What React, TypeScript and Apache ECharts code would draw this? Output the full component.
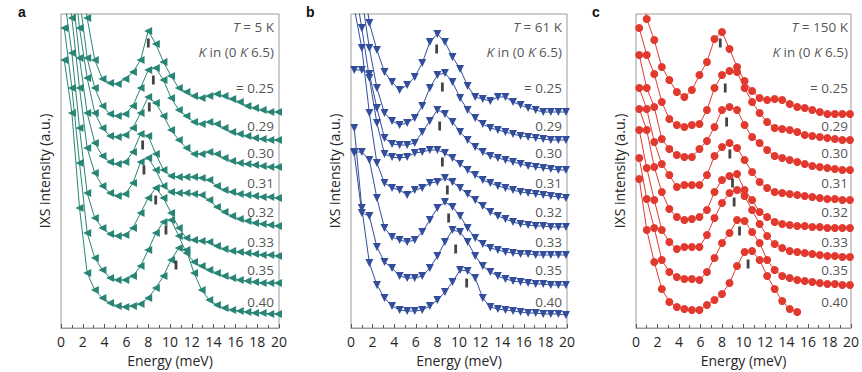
import React, { useEffect, useRef } from "react";
import * as echarts from "echarts";

// Energy grid (meV) of the measured points
const energies = [0.3, 1.0, 1.7, 2.4, 3.1, 3.8, 4.5, 5.2, 5.9, 6.6, 7.3, 8.0, 8.7, 9.4, 10.1, 10.8, 11.5, 12.2, 12.9, 13.6, 14.3, 15.0, 15.7, 16.4, 17.1, 17.8, 18.5, 19.2, 19.9];
const xTickLabels = [0, 2, 4, 6, 8, 10, 12, 14, 16, 18, 20];
const kLabels = ["= 0.25", "0.29", "0.30", "0.31", "0.32", "0.33", "0.35", "0.40"];
const kLabelLevels = [240, 202, 175, 145, 116, 86, 58, 26];
const headerLevels = [301, 276];
const temperatures = ["5", "61", "150"];
const panelLetters = ["a", "b", "c"];

// Panel a, T = 5 K (offset intensities, a.u.)
const a025 = [500, 440, 370, 310, 268, 249, 245, 244, 249, 256, 268, 297, 284, 266, 252, 240, 236, 232, 230, 232, 234, 232, 229, 226, 222, 220, 218, 216, 216];
const a029 = [470, 400, 330, 270, 240, 222, 214, 212, 214, 222, 240, 258, 260, 248, 230, 218, 212, 206, 204, 206, 204, 200, 196, 194, 192, 190, 189, 188, 188];
const a030 = [430, 370, 300, 250, 215, 200, 192, 191, 193, 200, 215, 231, 225, 212, 198, 188, 180, 174, 174, 176, 174, 170, 167, 165, 164, 163, 162, 161, 161];
const a031 = [400, 340, 270, 215, 185, 172, 166, 164, 166, 176, 194, 192, 174, 158, 152, 151, 151, 151, 150, 148, 142, 138, 136, 134, 133, 132, 131, 131, 130];
const a032 = [370, 310, 240, 180, 155, 142, 135, 132, 134, 145, 166, 170, 158, 142, 136, 135, 135, 134, 133, 128, 121, 116, 112, 109, 107, 105, 104, 103, 102];
const a033 = [330, 275, 200, 135, 110, 100, 94, 92, 93, 100, 115, 130, 140, 130, 115, 100, 90, 88, 87, 86, 82, 79, 77, 76, 75, 74, 73, 73, 72];
const a035 = [300, 240, 165, 95, 70, 58, 50, 48, 48, 52, 62, 78, 95, 106, 108, 92, 75, 66, 62, 58, 55, 52, 50, 48, 47, 46, 45, 45, 45];
const a040 = [268, 215, 120, 55, 38, 30, 25, 22, 21, 22, 24, 30, 40, 52, 68, 80, 78, 55, 38, 28, 23, 20, 18, 17, 16, 15, 15, 14, 14];
const peaksA = [[8.01, 285], [8.47, 248], [8.1, 221], [7.49, 183], [7.61, 158], [8.69, 128], [9.63, 98], [10.55, 63]];

// Panel b, T = 61 K
const b025 = [420, 360, 305, 278, 256, 246, 238, 243, 251, 265, 286, 294, 286, 271, 259, 242, 231, 229, 227, 231, 231, 226, 223, 220, 218, 216, 216, 216, 216];
const b029 = [380, 330, 280, 240, 215, 207, 203, 205, 210, 222, 240, 253, 255, 246, 230, 218, 210, 204, 200, 198, 196, 194, 192, 191, 190, 189, 188, 188, 188];
const b030 = [258, 258, 254, 220, 190, 184, 183, 183, 185, 196, 207, 218, 214, 206, 196, 188, 181, 176, 172, 170, 168, 166, 164, 162, 161, 160, 159, 158, 158];
const b031 = [345, 300, 250, 205, 174, 171, 170, 171, 175, 176, 178, 178, 175, 170, 164, 158, 153, 148, 145, 142, 140, 138, 136, 135, 134, 133, 132, 131, 130];
const b032 = [320, 280, 215, 165, 145, 140, 138, 133, 138, 140, 145, 146, 150, 146, 140, 134, 128, 122, 116, 112, 109, 106, 104, 103, 102, 102, 101, 101, 101];
const b033 = [176, 176, 168, 130, 100, 91, 88, 86, 88, 96, 108, 120, 126, 121, 112, 100, 90, 84, 80, 78, 76, 75, 74, 74, 73, 73, 73, 73, 73];
const b035 = [175, 115, 112, 81, 66, 60, 52, 50, 50, 52, 60, 72, 86, 98, 96, 86, 72, 62, 56, 52, 49, 47, 46, 45, 44, 44, 43, 43, 43];
const b040 = [200, 120, 65, 43, 30, 22, 18, 17, 17, 18, 22, 28, 36, 46, 58, 57, 50, 30, 21, 19, 18, 17, 16, 15, 15, 14, 14, 14, 13];
const peaksB = [[7.93, 279], [8.46, 241], [8.21, 202], [8.46, 166], [8.92, 138], [9.04, 110], [9.69, 79], [10.71, 45]];

// Panel c, T = 150 K
const c025 = [360, 309, 288, 261, 248, 236, 231, 238, 253, 266, 289, 296, 279, 261, 247, 237, 230, 228, 229, 228, 224, 221, 220, 218, 216, 214, 214, 214, 214];
const c029 = [300, 273, 254, 226, 209, 203, 201, 203, 204, 218, 240, 253, 257, 256, 240, 226, 215, 206, 200, 199, 198, 196, 193, 192, 191, 190, 189, 188, 188];
const c030 = [273, 240, 221, 189, 179, 173, 171, 171, 179, 187, 201, 218, 221, 218, 203, 191, 185, 178, 172, 170, 168, 166, 164, 162, 161, 160, 159, 158, 158];
const c031 = [240, 219, 186, 164, 153, 141, 143, 143, 143, 153, 172, 181, 185, 180, 168, 156, 146, 140, 136, 135, 134, 133, 132, 131, 130, 129, 129, 128, 128];
const c032 = [219, 198, 161, 136, 119, 111, 108, 109, 111, 118, 136, 148, 152, 154, 138, 128, 116, 111, 106, 104, 103, 102, 102, 101, 101, 100, 100, 100, 100];
const c033 = [198, 160, 128, 98, 86, 79, 81, 81, 81, 93, 110, 125, 135, 138, 132, 118, 104, 92, 84, 80, 77, 76, 75, 74, 73, 72, 72, 71, 71];
const c035 = [170, 129, 100, 68, 56, 51, 49, 49, 48, 56, 70, 85, 95, 108, 107, 96, 85, 68, 58, 52, 50, 48, 47, 46, 45, 44, 44, 43, 43];
const c040 = [149, 98, 66, 39, 26, 21, 19, 18, 18, 23, 28, 34, 45, 62, 76, 77, 68, 52, 39, 27, 19, 16, null, null, null, null, null, null, null];
const peaksC = [[7.84, 285], [8.3, 240], [8.43, 206], [8.73, 174], [8.98, 145], [9.13, 126], [9.63, 97], [10.43, 64]];

const panels = [
  { curves: [a025, a029, a030, a031, a032, a033, a035, a040], peaks: peaksA, color: "#288575", symbol: "triangle", rotate: 90, size: 8 },
  { curves: [b025, b029, b030, b031, b032, b033, b035, b040], peaks: peaksB, color: "#324d9c", symbol: "triangle", rotate: 180, size: 8 },
  { curves: [c025, c029, c030, c031, c032, c033, c035, c040], peaks: peaksC, color: "#e2392f", symbol: "circle", rotate: 0, size: 8 },
];

const grids = [
  { left: 61, top: 14, width: 218, height: 314 },
  { left: 351, top: 14, width: 216, height: 314 },
  { left: 636, top: 14, width: 216, height: 314 },
];
const letterPos = [[18, 12], [306, 12], [592, 12]];

const FONT = "'Open Sans', 'Noto Sans', sans-serif";
const TXT = "#262626";

export default function App() {
  const ref = useRef<HTMLDivElement>(null);
  useEffect(() => {
    if (!ref.current) return;
    const chart = echarts.init(ref.current, undefined, { renderer: "svg" });
    const series: any[] = [];
    panels.forEach((p, pi) => {
      p.curves.forEach((vals) => {
        const data: any[] = [];
        vals.forEach((v, i) => {
          if (v !== null) data.push([energies[i], v]);
        });
        series.push({
          type: "line",
          xAxisIndex: pi,
          yAxisIndex: pi,
          data,
          symbol: p.symbol,
          symbolRotate: p.rotate,
          symbolSize: p.size,
          showSymbol: true,
          clip: true,
          lineStyle: { color: p.color, width: 1 },
          itemStyle: { color: p.color },
          z: 2,
        });
      });
      series.push({
        type: "scatter",
        xAxisIndex: pi,
        yAxisIndex: pi,
        data: p.peaks,
        symbol: "rect",
        symbolSize: [2.8, 9],
        itemStyle: { color: "#151515" },
        z: 5,
      });
      const labelData: any[] = [
        { value: [20, headerLevels[0]], label: { formatter: "{i|T} = " + temperatures[pi] + " K" } },
        { value: [20, headerLevels[1]], label: { formatter: "{i|K} in (0 {i|K} 6.5)" } },
      ];
      kLabels.forEach((t, i) => labelData.push({ value: [20, kLabelLevels[i]], label: { formatter: t } }));
      series.push({
        type: "scatter",
        xAxisIndex: pi,
        yAxisIndex: pi,
        data: labelData,
        symbolSize: 0,
        clip: false,
        silent: true,
        z: 6,
        label: {
          show: true,
          position: "left",
          distance: pi === 2 ? 3 : 5,
          fontFamily: FONT,
          fontSize: 13.5,
          color: TXT,
          rich: { i: { fontStyle: "italic", fontFamily: FONT, fontSize: 13.5, color: TXT } },
        },
      });
    });

    const option: any = {
      animation: false,
      grid: grids.map((g) => ({ ...g, show: true, borderColor: "#9a9a9a", borderWidth: 1, containLabel: false })),
      xAxis: grids.map((_, i) => ({
        type: "value",
        gridIndex: i,
        min: 0,
        max: 20,
        interval: 2,
        name: "Energy (meV)",
        nameLocation: "middle",
        nameGap: 25,
        nameTextStyle: { fontFamily: FONT, fontSize: 14, color: TXT },
        axisLine: { show: true, lineStyle: { color: "#9a9a9a", width: 1 } },
        axisTick: { show: true, inside: true, length: 4, lineStyle: { color: "#555" } },
        minorTick: { show: true, splitNumber: 2, length: 3, lineStyle: { color: "#555" } },
        axisLabel: {
          fontFamily: FONT,
          fontSize: 14,
          color: TXT,
          margin: 6,
          formatter: (v: number) => (xTickLabels.includes(v) ? String(v) : ""),
        },
        splitLine: { show: false },
      })),
      yAxis: grids.map((_, i) => ({
        type: "value",
        gridIndex: i,
        min: 0,
        max: 314,
        name: "IXS intensity (a.u.)",
        nameLocation: "middle",
        nameGap: 10,
        nameTextStyle: { fontFamily: FONT, fontSize: 14, color: TXT },
        axisLine: { show: false },
        axisTick: { show: false },
        axisLabel: { show: false },
        splitLine: { show: false },
      })),
      graphic: panelLetters.map((l, i) => ({
        type: "text",
        x: letterPos[i][0],
        y: letterPos[i][1],
        style: { text: l, fontFamily: "'Liberation Sans', Arial, sans-serif", fontWeight: "bold", fontSize: 14, fill: "#111", align: "left", verticalAlign: "middle" },
      })),
      series,
    };
    chart.setOption(option);
    return () => chart.dispose();
  }, []);
  return <div ref={ref} style={{ position: "fixed", left: 0, top: 0, width: 862, height: 372, background: "#fff" }} />;
}
